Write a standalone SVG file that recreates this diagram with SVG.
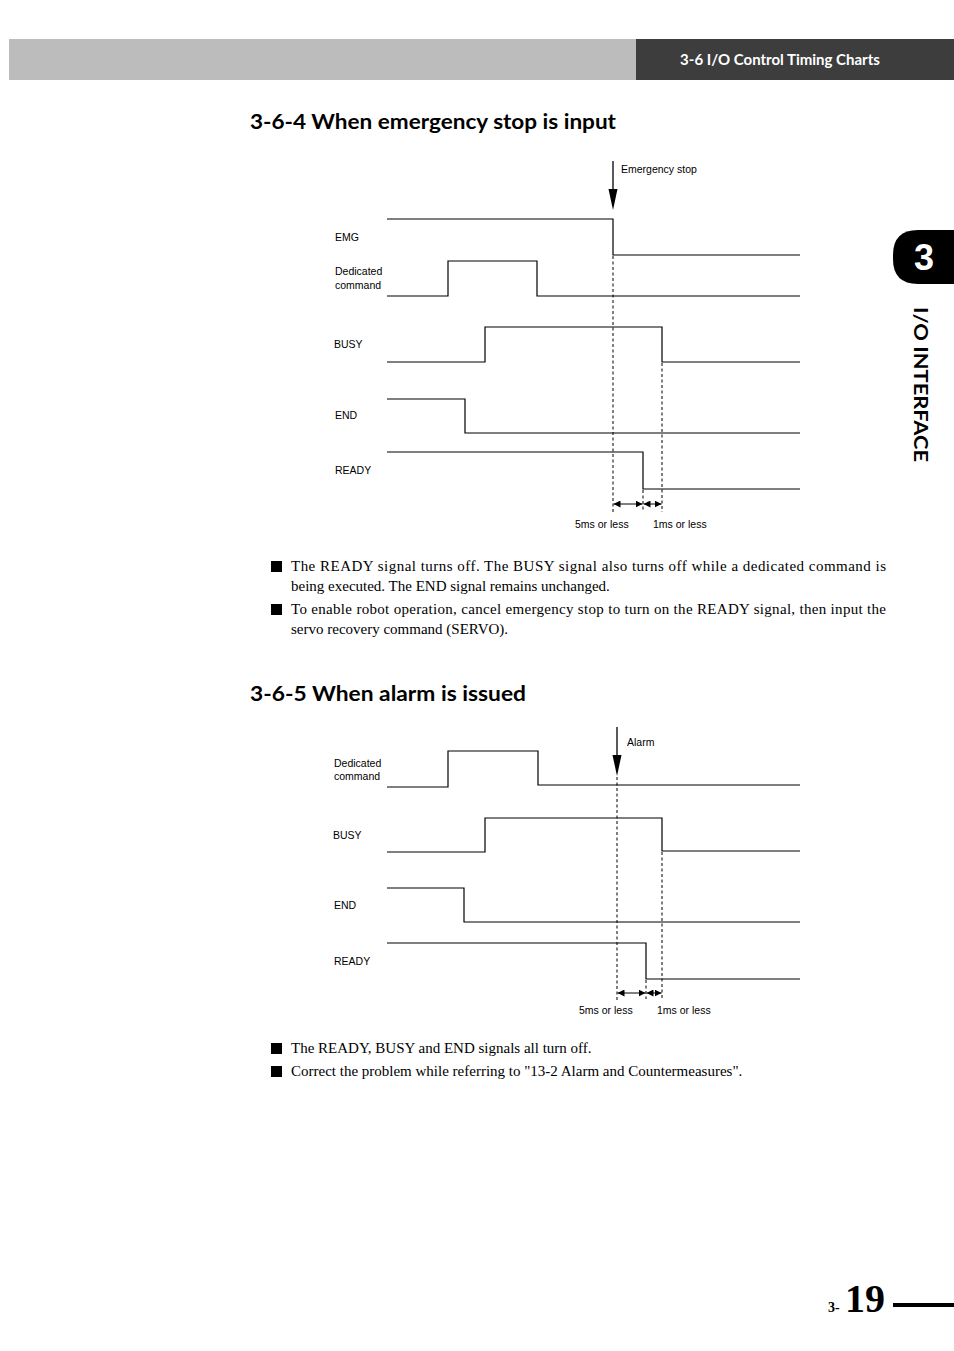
<svg xmlns="http://www.w3.org/2000/svg" width="954" height="1351" viewBox="0 0 954 1351">
<style>
.sig{fill:none;stroke:#000;stroke-width:1.2}
.dash{fill:none;stroke:#000;stroke-width:1;stroke-dasharray:3,2.5}
.lbl{font-family:"Liberation Sans",Arial,sans-serif;font-size:10.5px;fill:#000}
.body{font-family:"Liberation Serif","Times New Roman",serif;font-size:15px;fill:#000}
.h{font-family:Lato,"Open Sans",sans-serif;font-weight:bold;font-size:21px;fill:#000}
.dim{fill:none;stroke:#000;stroke-width:1;marker-start:url(#ah);marker-end:url(#ah)}
.arr{fill:#000}
</style>
<defs>
<marker id="ah" viewBox="0 0 10 10" refX="10" refY="5" markerWidth="7" markerHeight="7" markerUnits="userSpaceOnUse" orient="auto-start-reverse"><path d="M0,0 L10,5 L0,10 z" fill="#000"/></marker>
</defs>
<rect width="954" height="1351" fill="#fff"/>
<g id="header">
<rect x="9" y="39" width="627" height="41" fill="#bcbcbc"/>
<rect x="636" y="39" width="318" height="41" fill="#3d3d3d"/>
<text x="780" y="65" text-anchor="middle" font-family="Lato,'Open Sans',sans-serif" font-weight="bold" font-size="15" fill="#fff">3-6 I/O Control Timing Charts</text>
</g>
<g id="tab">
<path d="M954,230 L918,230 Q893,230 893,255 L893,259 Q893,284 918,284 L954,284 Z" fill="#000"/>
<text x="924" y="270" text-anchor="middle" font-family="'Liberation Sans',Arial,sans-serif" font-weight="bold" font-size="36" fill="#fff">3</text>
<text transform="translate(914,307) rotate(90)" font-family="Lato,'Open Sans',sans-serif" font-weight="bold" font-size="18" fill="#000" textLength="155" lengthAdjust="spacingAndGlyphs">I/O INTERFACE</text>
</g>
<text id="title1" class="h" x="250" y="129" textLength="366" lengthAdjust="spacingAndGlyphs">3-6-4   When emergency stop is input</text>
<g id="chart1">
<g id="emg1"><text class="lbl" x="335" y="241">EMG</text><polyline class="sig" points="387,219 613,219 613,255 800,255"/></g>
<g id="cmd1"><text class="lbl" x="335" y="275">Dedicated</text><text class="lbl" x="335" y="289">command</text><polyline class="sig" points="387,296 448,296 448,261 537,261 537,296 800,296"/></g>
<g id="busy1"><text class="lbl" x="334" y="348">BUSY</text><polyline class="sig" points="387,362 485,362 485,327 662,327 662,362 800,362"/></g>
<g id="end1"><text class="lbl" x="335" y="419">END</text><polyline class="sig" points="387,399 465,399 465,433 800,433"/></g>
<g id="ready1"><text class="lbl" x="335" y="474">READY</text><polyline class="sig" points="387,452 643,452 643,489 800,489"/></g>
<g id="estop"><text class="lbl" x="621" y="173">Emergency stop</text></g>
<g id="conn1">
<line x1="613" y1="161" x2="613" y2="192" stroke="#000" stroke-width="1.3"/>
<path class="arr" d="M608.5,189 L617.5,189 L613,210 Z"/>
<line class="dash" x1="613" y1="256" x2="613" y2="512"/>
<line class="dash" x1="662" y1="363" x2="662" y2="512"/>
<line class="dash" x1="643" y1="490" x2="643" y2="510"/>
<line class="dim" x1="613.5" y1="504" x2="642.5" y2="504"/>
<line class="dim" x1="643.5" y1="504" x2="661.5" y2="504"/>
</g>
<text class="lbl" x="575" y="528">5ms or less</text>
<text class="lbl" x="653" y="528">1ms or less</text>
</g>
<g id="bullets1">
<rect x="271" y="561" width="11" height="11" fill="#000"/>
<text class="body" x="291" y="571" textLength="595" lengthAdjust="spacing">The READY signal turns off. The BUSY signal also turns off while a dedicated command is</text>
<text class="body" x="291" y="591">being executed. The END signal remains unchanged.</text>
<rect x="271" y="604" width="11" height="11" fill="#000"/>
<text class="body" x="291" y="614" textLength="595" lengthAdjust="spacing">To enable robot operation, cancel emergency stop to turn on the READY signal, then input the</text>
<text class="body" x="291" y="634">servo recovery command (SERVO).</text>
</g>
<text id="title2" class="h" x="250" y="701" textLength="276" lengthAdjust="spacingAndGlyphs">3-6-5   When alarm is issued</text>
<g id="chart2">
<g id="cmd2"><text class="lbl" x="334" y="767">Dedicated</text><text class="lbl" x="334" y="780">command</text><polyline class="sig" points="387,787 448,787 448,751 538,751 538,785 800,785"/></g>
<g id="busy2"><text class="lbl" x="333" y="839">BUSY</text><polyline class="sig" points="387,852 485,852 485,818 662,818 662,851 800,851"/></g>
<g id="end2"><text class="lbl" x="334" y="909">END</text><polyline class="sig" points="387,888 464,888 464,922 800,922"/></g>
<g id="ready2"><text class="lbl" x="334" y="965">READY</text><polyline class="sig" points="387,943 646,943 646,979 800,979"/></g>
<g id="alarm"><text class="lbl" x="627" y="746">Alarm</text></g>
<g id="conn2">
<line x1="617" y1="727" x2="617" y2="758" stroke="#000" stroke-width="1.3"/>
<path class="arr" d="M612.5,755 L621.5,755 L617,776 Z"/>
<line class="dash" x1="617" y1="777" x2="617" y2="1000"/>
<line class="dash" x1="662" y1="852" x2="662" y2="1000"/>
<line class="dash" x1="646" y1="980" x2="646" y2="999"/>
<line class="dim" x1="617.5" y1="993" x2="645.5" y2="993"/>
<line class="dim" x1="646.5" y1="993" x2="661.5" y2="993"/>
</g>
<text class="lbl" x="579" y="1014">5ms or less</text>
<text class="lbl" x="657" y="1014">1ms or less</text>
</g>
<g id="bullets2">
<rect x="271" y="1043" width="11" height="11" fill="#000"/>
<text class="body" x="291" y="1053">The READY, BUSY and END signals all turn off.</text>
<rect x="271" y="1066" width="11" height="11" fill="#000"/>
<text class="body" x="291" y="1076">Correct the problem while referring to "13-2 Alarm and Countermeasures".</text>
</g>
<g id="pagenum">
<text x="828" y="1312" font-family="'Liberation Serif',serif" font-weight="bold" font-size="14">3-</text>
<text x="845" y="1312" font-family="'Liberation Serif',serif" font-weight="bold" font-size="40">19</text>
<rect x="893" y="1303" width="61" height="4" fill="#000"/>
</g>
</svg>
